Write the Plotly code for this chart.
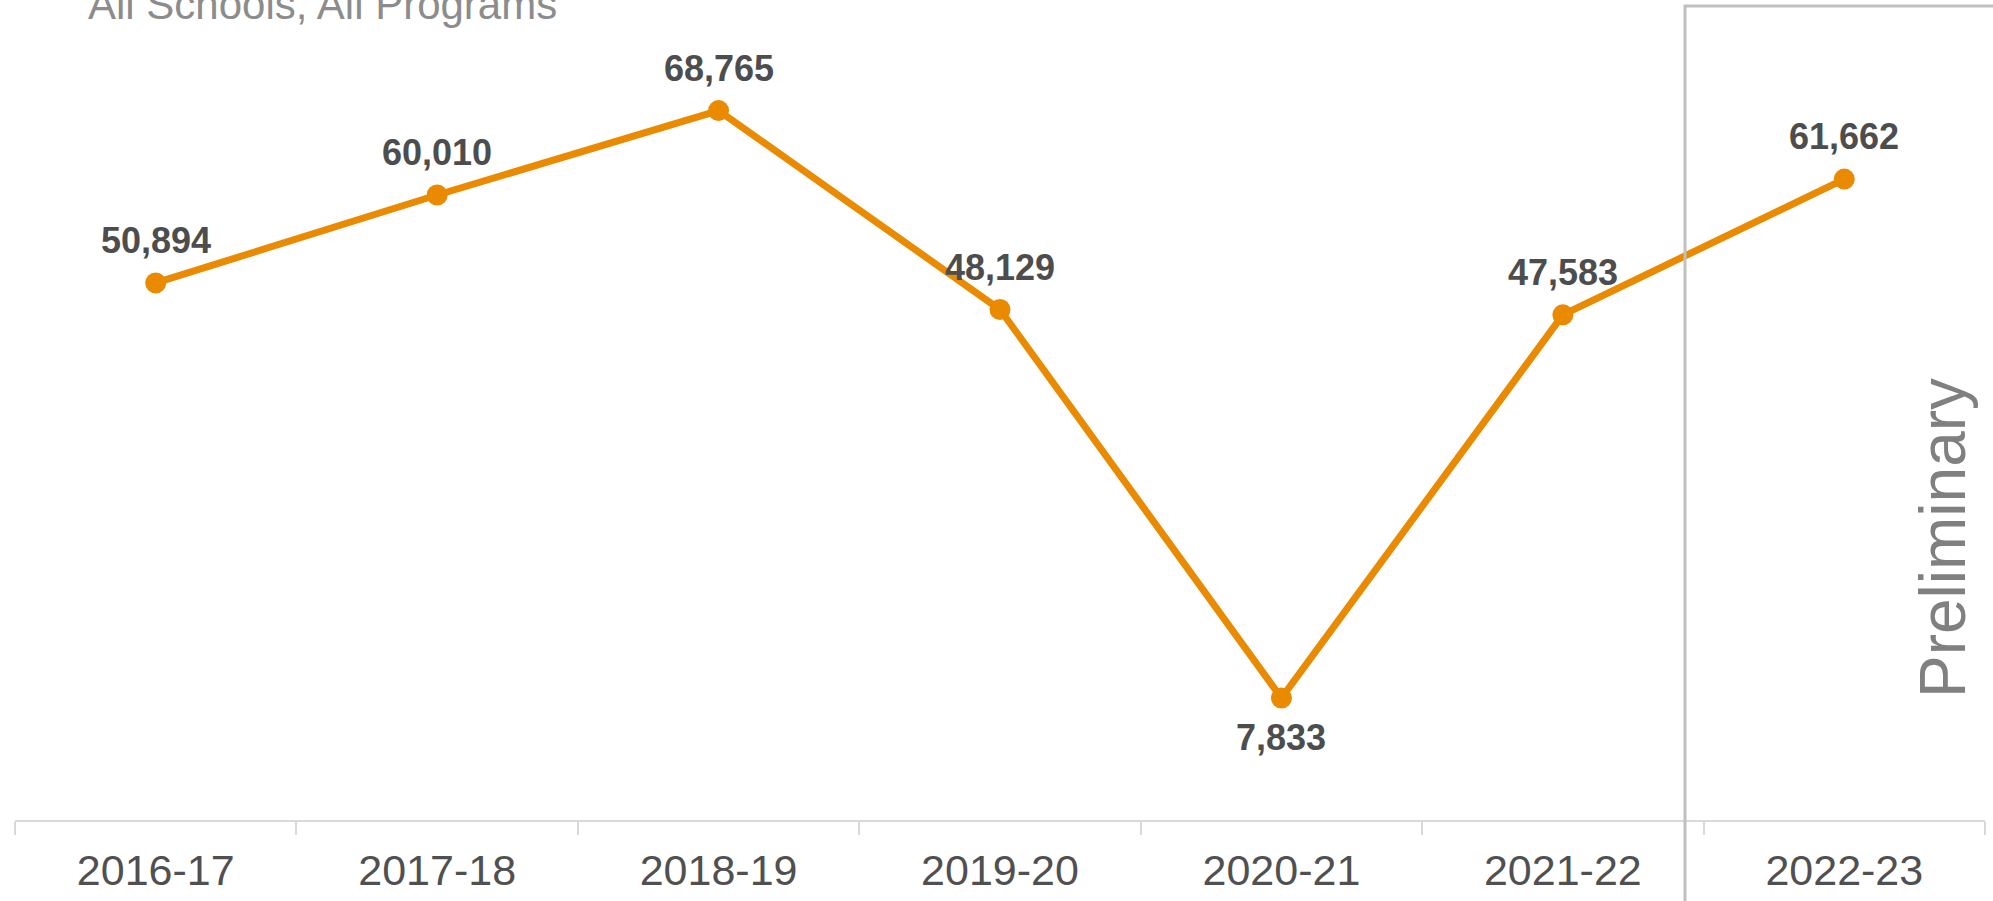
import plotly.graph_objects as go

years = ["2016-17", "2017-18", "2018-19", "2019-20", "2020-21", "2021-22", "2022-23"]
values = [50894, 60010, 68765, 48129, 7833, 47583, 61662]
label_below = [False, False, False, False, True, False, False]
subtitle = "All Schools, All Programs"
box_label = "Preliminary"

FONT = "Liberation Sans, Arial, sans-serif"
ORANGE = "#EA8A00"

W, H = 1993, 901
ML, MR, MT, MB = 15, 8, 0, 81

fig = go.Figure()
fig.add_trace(go.Scatter(
    x=years, y=values, mode="lines+markers",
    line=dict(color=ORANGE, width=7),
    marker=dict(color=ORANGE, size=21),
    cliponaxis=False,
    showlegend=False,
    hoverinfo="skip",
))

for yr, v, below in zip(years, values, label_below):
    fig.add_annotation(
        x=yr, y=v, text=f"{v:,}", showarrow=False,
        xanchor="center", yanchor="top" if below else "bottom",
        yshift=-17 if below else 20,
        font=dict(family=FONT, size=36, color="#4D4D4D", weight="bold"),
    )

plot_w = W - ML - MR
plot_h = H - MT - MB

fig.add_shape(type="rect", xref="paper", yref="paper",
              x0=(1685 - ML) / plot_w, x1=1.1,
              y0=-0.2, y1=1 - 6 / plot_h,
              line=dict(color="#C0C0C0", width=3), fillcolor="rgba(0,0,0,0)")

fig.add_annotation(text=box_label, xref="paper", yref="paper",
                   x=(1943 - ML) / plot_w, y=1 - 538 / plot_h,
                   textangle=-90, showarrow=False,
                   font=dict(family=FONT, size=64, color="#808080"),
                   xanchor="center", yanchor="middle")

fig.add_annotation(text=subtitle, xref="paper", yref="paper",
                   x=(86 - ML) / plot_w, y=1 - 4 / plot_h,
                   showarrow=False, xanchor="left", yanchor="middle",
                   font=dict(family=FONT, size=42, color="#8C8C8C"))

fig.update_layout(
    width=W, height=H,
    margin=dict(l=ML, r=MR, t=MT, b=MB, pad=0),
    plot_bgcolor="white", paper_bgcolor="white",
    xaxis=dict(type="category", range=[-0.5, 6.5], showgrid=False,
               showline=True, linecolor="#D9D9D9", linewidth=2,
               ticks="outside", ticklen=13, tickcolor="#D9D9D9", tickwidth=2,
               tickson="boundaries", automargin=False, ticklabelstandoff=11,
               tickfont=dict(family=FONT, size=43, color="#505050")),
    yaxis=dict(range=[-4824, 80240], visible=False, showgrid=False, zeroline=False),
)

fig.write_html("out.html", config={"displayModeBar": False},
               post_script="document.body.style.margin='0';")
